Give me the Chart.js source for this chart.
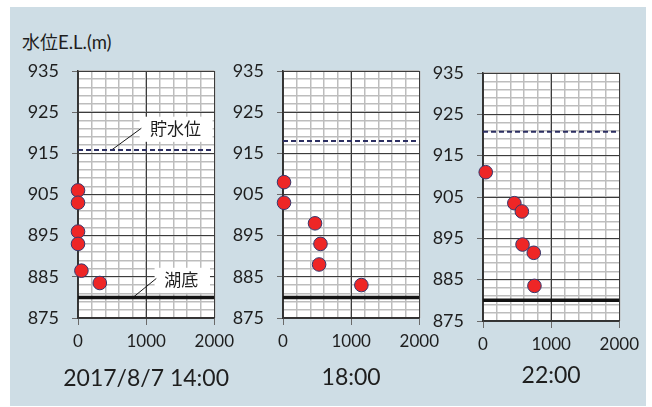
<!DOCTYPE html>
<html>
<head>
<meta charset="utf-8">
<script src="https://cdn.jsdelivr.net/npm/chart.js@4/dist/chart.umd.min.js"></script>
<style>
  html, body { margin: 0; padding: 0; background: #ffffff; }
  body { width: 652px; height: 407px; position: relative; overflow: hidden; }
  #frame { position: absolute; left: 10px; top: 7px; width: 636px; height: 399px; background: #cedde5; }
  canvas { position: absolute; top: 0; }
  #ytitle { position: absolute; left: 22px; top: 28px; font-size: 18px; color: #1e1e1e;
            font-family: "Noto Sans CJK JP", sans-serif; white-space: nowrap; line-height: 26px; }
  #ytitle span { font-family: Lato, sans-serif; font-size: 18.5px; }
</style>
</head>
<body>
<div id="frame"></div>
<div id="ytitle">水位<span>E.L.(m)</span></div>
<canvas id="p0" width="220" height="407"></canvas>
<canvas id="p1" width="220" height="407"></canvas>
<canvas id="p2" width="220" height="407"></canvas>
<script>
// Observation times (one panel each)
const times = ['2017/8/7 14:00', '18:00', '22:00'];

// Distance (m) and elevation E.L. (m) of each measured point
const dist1400 = [0, 0, 0, 0, 50, 320];
const elev1400 = [906, 903, 896, 893, 886.5, 883.5];
const dist1800 = [15, 15, 470, 550, 530, 1150];
const elev1800 = [908, 903, 898, 893, 888, 883];
const dist2200 = [40, 460, 570, 580, 745, 755];
const elev2200 = [911, 903.5, 901.5, 893.5, 891.5, 883.5];

// Reservoir water level and lake bed at each time
const reservoirLevel = [915.8, 918, 920.8];
const lakeBed = [880, 880, 880];

// Axis ranges and labelled ticks
const xRange = [0, 2000];
const yRange = [875, 935];
const xTickLabels = [0, 1000, 2000];
const yTickLabels = [875, 885, 895, 905, 915, 925, 935];
const xMinorStep = 200;
const yMinorStep = 2;

// Callout labels on the first panel (data coordinates)
const callouts = [
  { text: '貯水位', box: [905, 1975, 917.8, 923.9], at: [1431, 920.9], lead: [[492, 915.8], [930, 921.1]] },
  { text: '湖底',   box: [1124, 1937, 881.1, 887.2], at: [1514, 884.4], lead: [[807, 880], [1149, 884.6]] }
];

const series = [
  { dist: dist1400, elev: elev1400 },
  { dist: dist1800, elev: elev1800 },
  { dist: dist2200, elev: elev2200 }
];

// Canvas placement for each panel
const layoutCfg = [
  { left: 20,  top: 71, bottom: 318, captionY: 379 },
  { left: 225, top: 71, bottom: 318, captionY: 378 },
  { left: 425, top: 73, bottom: 321, captionY: 376 }
];

const Y_AXIS_W = 58, X_AXIS_H = 60, RIGHT_PAD = 25, CANVAS_H = 407;

const plotBg = {
  id: 'plotBg',
  beforeDraw(chart) {
    const { ctx, chartArea: a } = chart;
    ctx.save();
    ctx.fillStyle = '#ffffff';
    ctx.fillRect(a.left, a.top, a.right - a.left, a.bottom - a.top);
    ctx.restore();
  }
};

const calloutPlugin = {
  id: 'callouts',
  beforeDatasetsDraw(chart, args, opts) {
    if (!opts.items) return;
    const { ctx, scales: { x, y } } = chart;
    ctx.save();
    opts.items.forEach(c => {
      const x0 = x.getPixelForValue(c.box[0]), x1 = x.getPixelForValue(c.box[1]);
      const y0 = y.getPixelForValue(c.box[3]), y1 = y.getPixelForValue(c.box[2]);
      ctx.fillStyle = '#ffffff';
      ctx.fillRect(x0, y0, x1 - x0, y1 - y0);
      ctx.strokeStyle = '#1a1a1a';
      ctx.lineWidth = 1;
      ctx.beginPath();
      ctx.moveTo(x.getPixelForValue(c.lead[0][0]), y.getPixelForValue(c.lead[0][1]));
      ctx.lineTo(x.getPixelForValue(c.lead[1][0]), y.getPixelForValue(c.lead[1][1]));
      ctx.stroke();
      ctx.fillStyle = '#1e1e1e';
      ctx.font = '17px "Noto Sans CJK JP"';
      ctx.textAlign = 'center';
      ctx.textBaseline = 'middle';
      ctx.fillText(c.text, x.getPixelForValue(c.at[0]), y.getPixelForValue(c.at[1]));
    });
    ctx.restore();
  }
};

const captionPlugin = {
  id: 'caption',
  afterDraw(chart, args, opts) {
    const { ctx, chartArea: a } = chart;
    ctx.save();
    ctx.fillStyle = '#1e1e1e';
    ctx.font = '23px Lato';
    ctx.textAlign = 'center';
    ctx.textBaseline = 'middle';
    ctx.fillText(opts.text, (a.left + a.right) / 2, opts.y);
    ctx.restore();
  }
};

series.forEach((s, i) => {
  const L = layoutCfg[i];
  const canvas = document.getElementById('p' + i);
  canvas.style.left = L.left + 'px';
  const lineY = v => [{ x: xRange[0], y: v }, { x: xRange[1], y: v }];

  new Chart(canvas, {
    type: 'scatter',
    data: {
      datasets: [
        {
          data: s.dist.map((d, k) => ({ x: d, y: s.elev[k] })),
          backgroundColor: '#ee2626',
          borderColor: '#35386e',
          borderWidth: 1,
          pointRadius: 6.8,
          clip: false,
          order: 0
        },
        {
          type: 'line',
          data: lineY(reservoirLevel[i]),
          borderColor: '#2c2f62',
          borderWidth: 2,
          borderDash: [5, 3],
          pointRadius: 0,
          order: 1
        },
        {
          type: 'line',
          data: lineY(lakeBed[i]),
          borderColor: '#141414',
          borderWidth: 3.5,
          pointRadius: 0,
          order: 2
        }
      ]
    },
    options: {
      responsive: false,
      animation: false,
      events: [],
      layout: { padding: { left: 0, right: RIGHT_PAD, top: L.top, bottom: CANVAS_H - L.bottom - X_AXIS_H } },
      plugins: {
        legend: { display: false },
        tooltip: { enabled: false },
        callouts: { items: i === 0 ? callouts : null },
        caption: { text: times[i], y: L.captionY }
      },
      scales: {
        xm: {
          type: 'linear', position: 'bottom', min: xRange[0], max: xRange[1],
          ticks: { display: false, stepSize: xMinorStep, autoSkip: false },
          grid: { color: '#bdbdbd', lineWidth: 1.5, drawTicks: false, z: -2 },
          border: { display: false },
          afterFit(sc) { sc.height = 0; }
        },
        ym: {
          type: 'linear', position: 'left', min: yRange[0], max: yRange[1],
          ticks: { display: false, stepSize: yMinorStep, autoSkip: false },
          grid: { color: '#bdbdbd', lineWidth: 1.5, drawTicks: false, z: -2 },
          border: { display: false },
          afterFit(sc) { sc.width = 0; }
        },
        x: {
          type: 'linear', position: 'bottom', min: xRange[0], max: xRange[1],
          afterBuildTicks(sc) { sc.ticks = xTickLabels.map(v => ({ value: v })); },
          afterFit(sc) { sc.height = X_AXIS_H; },
          ticks: {
            autoSkip: false, maxRotation: 0, padding: 6,
            color: '#1e1e1e', font: { family: 'Lato', size: 17 },
            callback: v => String(v)
          },
          grid: { color: '#3c3c3c', lineWidth: 1, tickLength: 7, tickColor: '#6a6a6a', z: -1 },
          border: { display: true, color: '#333333', width: 1.5 }
        },
        y: {
          type: 'linear', position: 'left', min: yRange[0], max: yRange[1],
          afterBuildTicks(sc) { sc.ticks = yTickLabels.map(v => ({ value: v })); },
          afterFit(sc) { sc.width = Y_AXIS_W; },
          ticks: {
            autoSkip: false, padding: 13,
            color: '#1e1e1e', font: { family: 'Lato', size: 18 },
            callback: v => String(v)
          },
          grid: { color: '#3c3c3c', lineWidth: 1, tickLength: 6, tickColor: '#6a6a6a', z: -1 },
          border: { display: true, color: '#333333', width: 1.5 }
        }
      }
    },
    plugins: [plotBg, calloutPlugin, captionPlugin]
  });
});
</script>
</body>
</html>
